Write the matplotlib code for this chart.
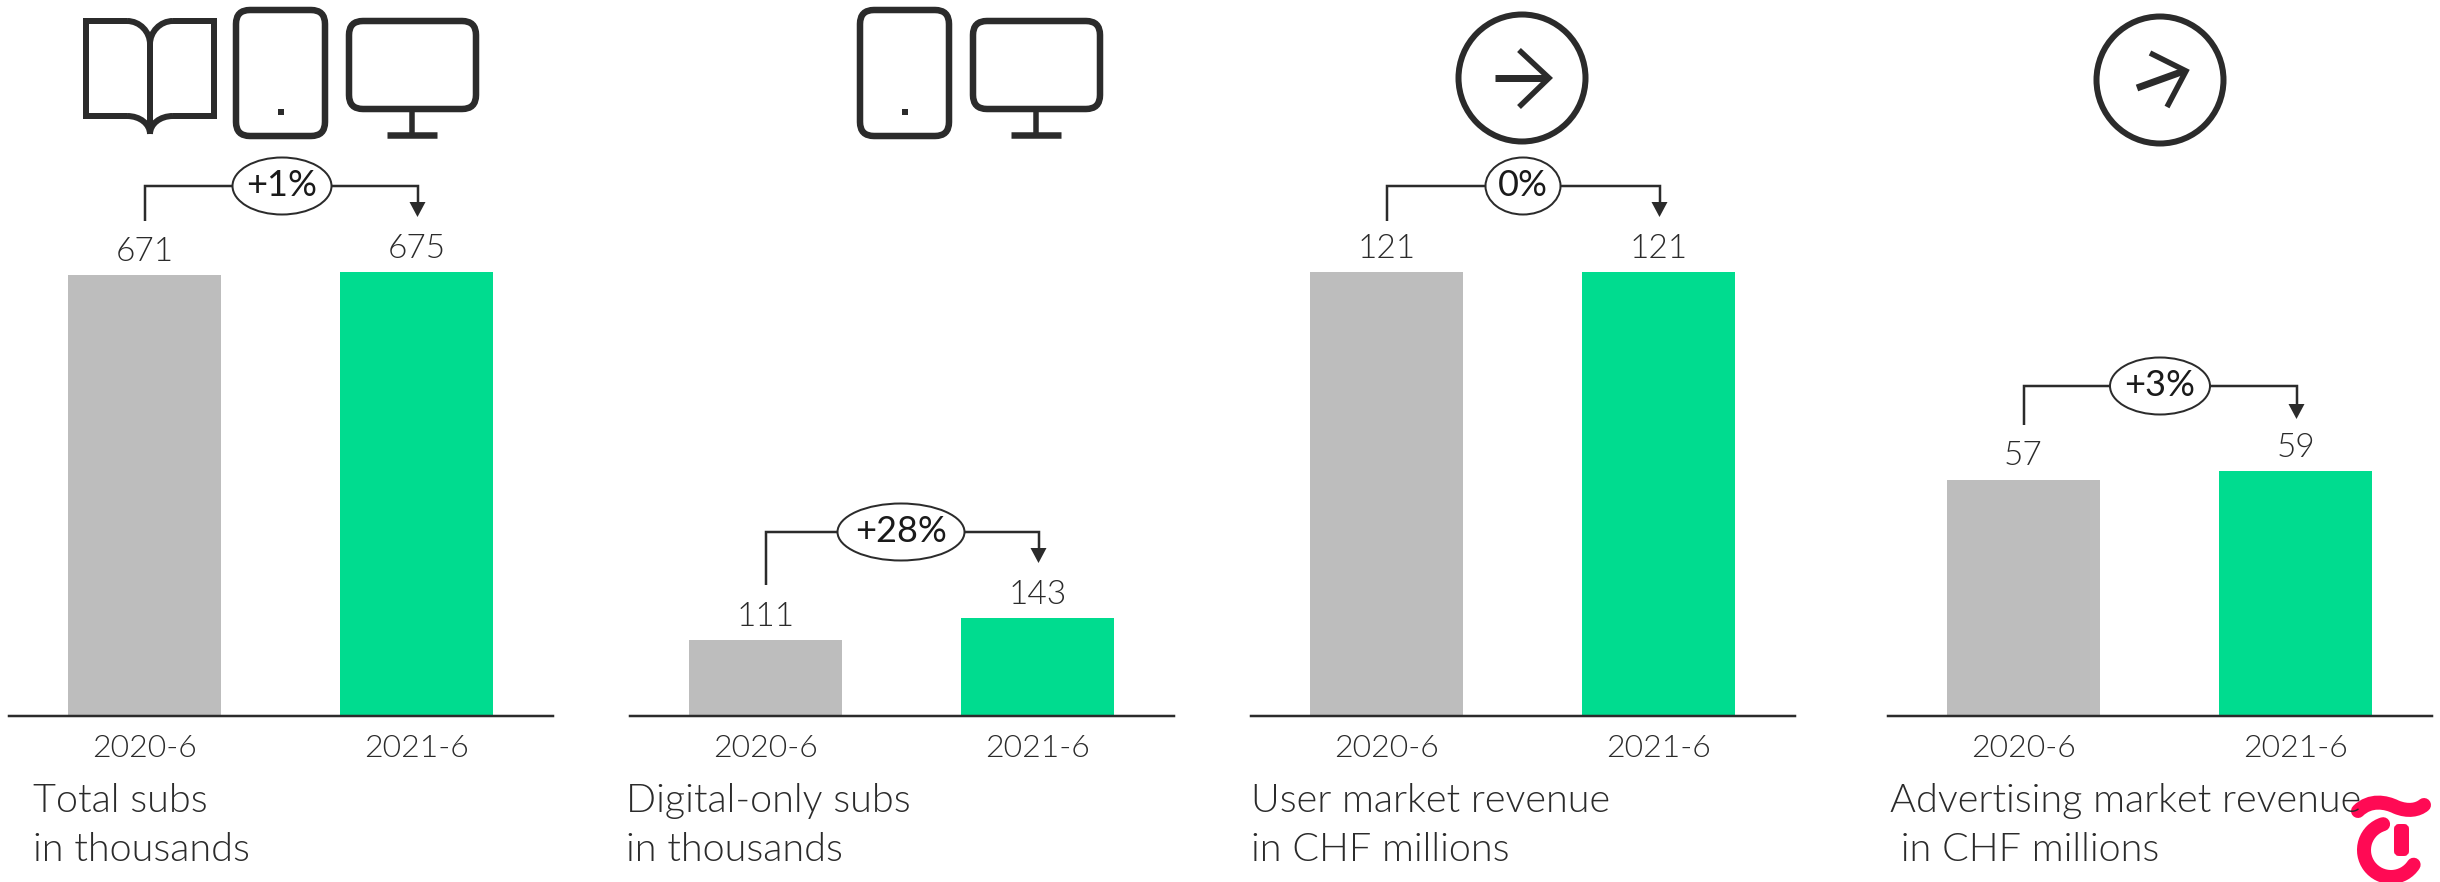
import matplotlib
matplotlib.use('Agg')
import matplotlib.pyplot as plt
from matplotlib.patches import Ellipse, FancyBboxPatch, PathPatch, Rectangle
from matplotlib.path import Path
from matplotlib.transforms import Affine2D

# Data
periods = ['2020-6', '2021-6']
total_subs = [671, 675]
digital_subs = [111, 143]
user_revenue = [121, 121]
ad_revenue = [57, 59]
changes = ['+1%', '+28%', '0%', '+3%']
titles = ['Total subs\nin thousands', 'Digital-only subs\nin thousands',
          'User market revenue\nin CHF millions', 'Advertising market revenue\n in CHF millions']

# Layout in reference pixels
W, H = 2440, 882
base_y, top_y = 715.5, 272.5
panel_w = 544
panel_left = [8.5, 629.5, 1250.5, 1887.5]
y_max = [675, 653, 121, 107]
title_x = [33, 626, 1251, 1890]
bracket_y = [186, 532, 186, 386]
drop_left = [35, 53, 35, 39]
drop_right = [31, 31, 31, 33]
oval_w = [99, 127, 75, 100]
oval_x = [282, 901, 1523, 2160]

DARK = '#2b2b2b'
GREY = '#bdbdbd'
GREEN = '#00dc8f'
PINK = '#ff0a54'
FONT = 'Lato'


def px(v):
    return v * 0.72


plt.rcParams['font.family'] = FONT
fig = plt.figure(figsize=(W / 100, H / 100), dpi=100)

series = [total_subs, digital_subs, user_revenue, ad_revenue]
for i, vals in enumerate(series):
    ax = fig.add_axes([panel_left[i] / W, 1 - base_y / H, panel_w / W, (base_y - top_y) / H])
    ax.bar([0, 1], vals, width=0.56, color=[GREY, GREEN])
    ax.set_xlim(-0.5, 1.5)
    ax.set_ylim(0, y_max[i])
    ax.set_xticks([0, 1], periods, fontsize=23, fontweight=300, color=DARK)
    ax.set_yticks([])
    ax.tick_params(axis='x', length=0, pad=13)
    for s in ['top', 'left', 'right']:
        ax.spines[s].set_visible(False)
    ax.spines['bottom'].set_linewidth(px(2.5))
    ax.spines['bottom'].set_color(DARK)
    ax.patch.set_alpha(0)
    for x, v in zip([0, 1], vals):
        ax.annotate(str(v), (x, v), xytext=(0, 6), textcoords='offset points',
                    ha='center', va='bottom', fontsize=24, fontweight=300,
                    color=DARK, annotation_clip=False)

# Overlay in pixel coordinates for icons, brackets and captions
ov = fig.add_axes([0, 0, 1, 1])
ov.set_xlim(0, W)
ov.set_ylim(H, 0)
ov.axis('off')
ov.patch.set_alpha(0)


def stroke(verts, codes=None, lw=6, color=DARK, cap='butt', join='miter'):
    ov.add_patch(PathPatch(Path(verts, codes), fill=False, lw=px(lw), edgecolor=color,
                           capstyle=cap, joinstyle=join))


def draw_book():
    curve = [Path.MOVETO, Path.CURVE4, Path.CURVE4, Path.CURVE4]
    for sx, cx, kx in [(86, 127, 140), (214, 173, 160)]:
        stroke([(cx, 116), (sx, 116), (sx, 21), (cx, 21)], lw=6)
        stroke([(cx, 21), (kx, 21), (150, 32), (150, 44)], curve, lw=6)
        stroke([(cx, 116), (kx, 116), (150, 124), (150, 134)], curve, lw=6)
    stroke([(150, 44), (150, 134)], lw=6)


def draw_phone(dx=0):
    ov.add_patch(FancyBboxPatch((236 + dx, 10), 89, 126, boxstyle='round,pad=0,rounding_size=14',
                                fill=False, lw=px(6.5), edgecolor=DARK))
    ov.add_patch(Rectangle((278 + dx, 109), 6, 6, color=DARK, lw=0))


def draw_monitor(dx=0):
    ov.add_patch(FancyBboxPatch((349 + dx, 21), 127, 88, boxstyle='round,pad=0,rounding_size=14',
                                fill=False, lw=px(6.5), edgecolor=DARK))
    stroke([(412 + dx, 110), (412 + dx, 134)], lw=5.5)
    stroke([(387 + dx, 135), (437 + dx, 135)], lw=6.5)


def draw_circle_arrow(cx, cy, shaft, head):
    ov.add_patch(Ellipse((cx, cy), 127, 127, fill=False, lw=px(6), edgecolor=DARK))
    stroke(shaft, lw=7)
    stroke(head, lw=5.5, join='miter')


draw_book()
draw_phone()
draw_monitor()
draw_phone(624)
draw_monitor(624)
draw_circle_arrow(1522, 78, [(1495, 78), (1548, 78)], [(1519, 50), (1549, 78), (1519, 107)])
draw_circle_arrow(2160, 80, [(2137, 88), (2184, 71)], [(2150, 53), (2186, 71), (2167, 107)])

# Change brackets
for i in range(4):
    left = panel_left[i] + 136.5
    right = left + 272.5
    y = bracket_y[i]
    tip = y + drop_right[i]
    stroke([(left, y + drop_left[i]), (left, y), (right, y), (right, tip - 14)], lw=2.5)
    ov.add_patch(PathPatch(Path([(right - 8, tip - 15), (right + 8, tip - 15), (right, tip), (right - 8, tip - 15)]),
                           facecolor=DARK, edgecolor='none'))
    ov.add_patch(Ellipse((oval_x[i], y), oval_w[i], 57, facecolor='white', edgecolor=DARK, lw=px(2)))
    ov.text(oval_x[i], y, changes[i], ha='center', va='center', fontsize=26, color='#1a1a1a')

# Captions
for i, t in enumerate(titles):
    ov.text(title_x[i], 783, t, ha='left', va='top', fontsize=28.5, fontweight=300,
            color=DARK, linespacing=1.46)

# Logo
stroke([(2358, 811), (2370, 799), (2386, 802), (2396, 807), (2408, 812), (2418, 810), (2424, 805)],
       [Path.MOVETO, Path.CURVE4, Path.CURVE4, Path.CURVE4, Path.CURVE4, Path.CURVE4, Path.CURVE4],
       lw=14, color=PINK, cap='round')
arc = Path.arc(107, 327).transformed(Affine2D().scale(27, -27).translate(2391, 850))
ov.add_patch(PathPatch(arc, fill=False, lw=px(14), edgecolor=PINK, capstyle='round'))
ov.add_patch(FancyBboxPatch((2396, 826), 11, 28, boxstyle='round,pad=0,rounding_size=3',
                            facecolor=PINK, edgecolor=PINK, lw=px(4)))

fig.savefig('out.png', dpi=100)
